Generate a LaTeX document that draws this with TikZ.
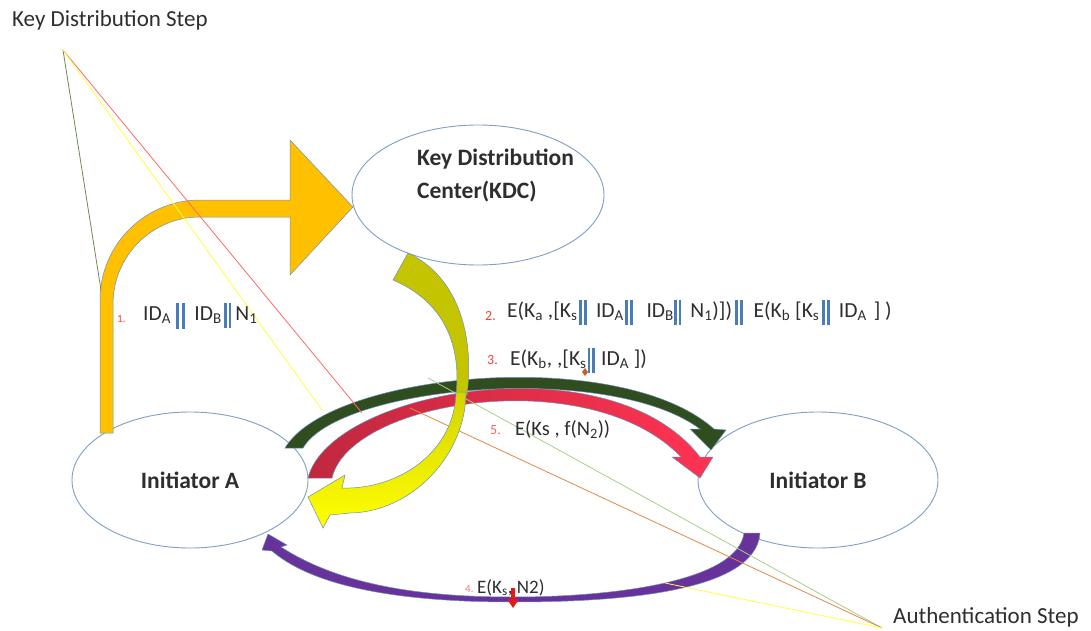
\documentclass[tikz,border=0pt]{standalone}
\usepackage{fontspec}
\setmainfont{Carlito}
\usetikzlibrary{shapes.geometric}
\definecolor{ellblue}{HTML}{7F9FC4}
\definecolor{outl}{HTML}{6F8FBA}
\definecolor{orng}{HTML}{FFC000}
\definecolor{purp}{HTML}{67339B}
\definecolor{dgreen}{HTML}{304D20}
\definecolor{redL}{HTML}{C0283E}
\definecolor{redR}{HTML}{FF3352}
\definecolor{olivec}{HTML}{C4C400}
\definecolor{yelTop}{HTML}{D4D400}
\definecolor{yelBot}{HTML}{FFFF00}
\definecolor{numred}{HTML}{FF3B3B}
\definecolor{barblue}{HTML}{4A7DB8}
\definecolor{txt}{HTML}{2E2E2E}
\definecolor{lnGreenA}{HTML}{6E8B4E}
\definecolor{lnRed}{HTML}{FF6868}
\definecolor{lnYel}{HTML}{FFFF40}
\definecolor{lnGreenB}{HTML}{A6CF86}
\definecolor{lnOrange}{HTML}{E2874A}
\definecolor{smallred}{HTML}{E01B1B}
\definecolor{brownm}{HTML}{C0642A}
\newcommand{\dbar}{\textcolor{barblue}{\rule[-8pt]{2.8pt}{25pt}\hspace{2pt}\rule[-8pt]{2.8pt}{25pt}}}
\newcommand{\wbar}{\textcolor{barblue}{\rule[-9pt]{3.4pt}{26pt}\hspace{2.6pt}\rule[-9pt]{3.4pt}{26pt}}}
\begin{document}
\begin{tikzpicture}[x=1pt,y=-1pt,
  blk/.style={draw=outl, line width=0.5pt},
  ell/.style={ellipse, draw=ellblue, line width=0.9pt, fill=white, inner sep=0pt},
  lbl/.style={anchor=base west, inner sep=0pt, text=txt, font=\fontsize{21.5}{25}\selectfont},
  num/.style={anchor=base west, inner sep=0pt, text=numred, font=\fontsize{13}{15}\selectfont},
  ttl/.style={anchor=base west, inner sep=0pt, text=txt, font=\fontsize{23}{27}\selectfont},
  bold/.style={font=\fontsize{23.5}{33}\selectfont\bfseries, text=txt},
  thinln/.style={line width=0.8pt}]
\useasboundingbox (0,0) rectangle (1091,631);

% ellipses
\node[ell, minimum width=252pt, minimum height=140pt] (kdc) at (478,195) {};
\node[ell, minimum width=236pt, minimum height=136pt, bold] (ia) at (190,480) {Initiator A};
\node[ell, minimum width=240pt, minimum height=136pt, bold] (ib) at (818,480) {Initiator B};
\node[bold, align=left, anchor=north west, inner sep=0pt] (kdct) at (417,149) {Key Distribution\\Center(KDC)};

% orange bent arrow
\path[blk, fill=orng] (100,433) -- (100,300) .. controls (100,244.8) and (144.8,200) .. (200,200) -- (290,200) -- (290,140) -- (353,207) -- (290,275) -- (290,217) -- (200,217) .. controls (152,217) and (113,256) .. (113,304) -- (113,433) -- cycle;

% purple arrow
\path[blk, fill=purp] (268,534) -- (287,545) -- (281,547) .. controls (340,585) and (420,597) .. (513,597) .. controls (620,597) and (738,580) .. (744,533) -- (760,533) .. controls (756,592) and (620,602) .. (513,602) .. controls (420,602) and (320,592) .. (272,551) -- (262,550) -- cycle;

% dark green arc
\path[blk, fill=dgreen] (285,448) .. controls (330,372) and (620,345) .. (714,429) -- (726,430) -- (711,450) -- (690,429) -- (700,429) .. controls (610,362) and (340,385) .. (303,448) -- cycle;

% red arc
\path[blk, left color=redL, right color=redR] (308,478) .. controls (330,390) and (610,340) .. (700,457) -- (713,457) -- (700,478) -- (672,457) -- (681,457) .. controls (590,362) and (350,400) .. (332,478) -- cycle;

% lines
\coordinate (kds) at (63,50);
\coordinate (aus) at (882,628);
\coordinate (e1) at (101,290);
\coordinate (e2) at (362,413);
\coordinate (e3) at (322,410);
\coordinate (e4) at (428,378);
\coordinate (e5) at (410,408);
\coordinate (e6) at (665,583);
\draw[thinln, lnGreenA] (kds) -- (e1);
\draw[thinln, lnRed] (kds) -- (e2);
\draw[thinln, lnYel] (kds) -- (e3);
\draw[thinln, lnGreenB] (aus) -- (e4);
\draw[thinln, lnOrange] (aus) -- (e5);
\draw[thinln, lnYel] (aus) -- (e6);

% yellow curved arrow
\path[blk, fill=olivec] (393,280) -- (408,253) .. controls (455,275) and (475,330) .. (467,395) -- (456,395) .. controls (462,340) and (440,300) .. (393,280) -- cycle;
\path[blk, top color=yelTop, bottom color=yelBot] (456,392) -- (466,392) .. controls (466,455) and (412,512) .. (350,513) -- (330,515) -- (323,528) -- (308,497) -- (345,475) -- (342,488) -- (350,488) .. controls (405,486) and (455,448) .. (456,392) -- cycle;

% small markers
\path[fill=brownm] (585,368) -- (588,372) -- (585,376) -- (582,372) -- cycle;

% titles
\node[ttl] (t1) at (12,27) {Key Distribution Step};
\node[ttl] (t2) at (893,623) {Authentication Step};

% labels
\node[num, font=\fontsize{11}{13}\selectfont] (n1) at (117,322) {1.};
\node[lbl] (m1) at (143,320) {ID\textsubscript{A}\hspace{5pt}\wbar\hspace{9pt}ID\textsubscript{B}\hspace{2pt}\dbar\hspace{4pt}N\textsubscript{1}};
\node[num, font=\fontsize{14}{16}\selectfont] (n2) at (485,320) {2.};
\node[lbl] (m2) at (507,317) {E(K\textsubscript{a} ,[K\textsubscript{s}\hspace{2pt}\dbar\hspace{9pt}ID\textsubscript{A}\hspace{1pt}\dbar\hspace{14pt}ID\textsubscript{B}\dbar\hspace{9pt}N\textsubscript{1})])\hspace{3pt}\dbar\hspace{11pt}E(K\textsubscript{b} [K\textsubscript{s}\hspace{3pt}\dbar\hspace{9pt}ID\textsubscript{A}\hspace{7pt}] )};
\node[num, font=\fontsize{14}{16}\selectfont] (n3) at (487,364) {3.};
\node[lbl] (m3) at (510,365) {E(K\textsubscript{b}, ,[K\textsubscript{s}\hspace{1pt}\dbar\hspace{6pt}ID\textsubscript{A} ])};
\node[num, font=\fontsize{14}{16}\selectfont, text=numred!80] (n5) at (490,434) {5.};
\node[lbl, font=\fontsize{20.5}{24}\selectfont] (m5) at (515,435) {E(Ks , f(N\textsubscript{2}))};
\node[num, font=\fontsize{11}{13}\selectfont, text=numred!70] (n4) at (465,592) {4.};
\node[lbl, font=\fontsize{19}{22}\selectfont] (m4) at (477,593) {E(K\textsubscript{s}, N2)};

% small red arrow
\path[fill=smallred] (511,588) -- (515,588) -- (515,599) -- (519,599) -- (513,608) -- (507,599) -- (511,599) -- cycle;
\end{tikzpicture}
\end{document}
